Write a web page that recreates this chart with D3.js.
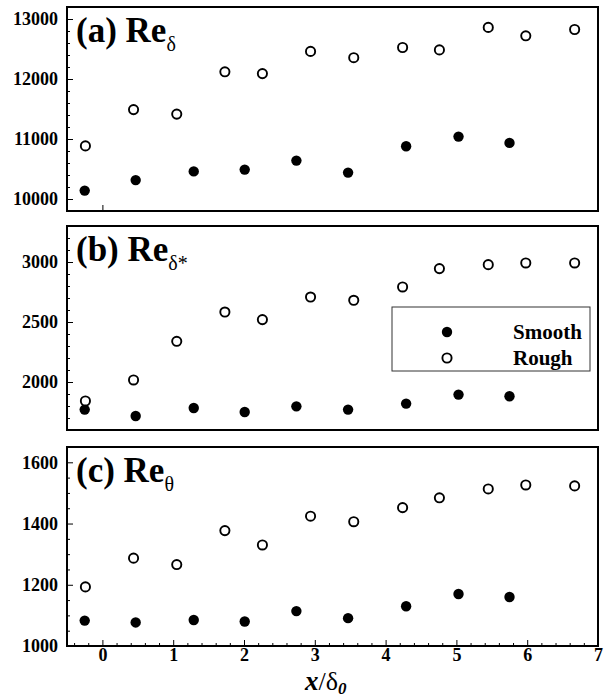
<!DOCTYPE html>
<html>
<head>
<meta charset="utf-8">
<script src="https://cdn.jsdelivr.net/npm/d3@7"></script>
<style>
  body { margin: 0; background: #fff; }
  text { font-family: "Liberation Serif", "Times New Roman", serif; }
</style>
</head>
<body>
<div id="chart-area"></div>
<script>
// x / delta_0 positions of the stations
const xSmooth = [-0.25, 0.47, 1.29, 2.01, 2.74, 3.47, 4.29, 5.03, 5.75]
const xRough = [-0.24, 0.44, 1.05, 1.73, 2.26, 2.94, 3.55, 4.24, 4.76, 5.45, 5.98, 6.67]

// (a) Re_delta
const reDeltaSmooth = [10140, 10315, 10460, 10490, 10640, 10440, 10880, 11040, 10935]
const reDeltaRough = [10885, 11490, 11415, 12120, 12090, 12460, 12355, 12525, 12485, 12860, 12720, 12825]
// (b) Re_delta*
const reDispSmooth = [1770, 1717, 1783, 1750, 1797, 1770, 1820, 1895, 1881]
const reDispRough = [1842, 2017, 2339, 2583, 2520, 2708, 2681, 2792, 2945, 2978, 2992, 2992]
// (c) Re_theta
const reThetaSmooth = [1083, 1077, 1085, 1080, 1114, 1091, 1130, 1170, 1160]
const reThetaRough = [1193, 1287, 1266, 1377, 1330, 1424, 1406, 1452, 1484, 1513, 1526, 1523]

const xTicks = [0, 1, 2, 3, 4, 5, 6, 7]
const legendLabels = ["Smooth", "Rough"]

const LEFT = 67, RIGHT = 598
const SERIF = '"Liberation Serif", "Times New Roman", serif'

const panels = [
  { tag: "(a)", sub: "\u03b4", top: 7, bottom: 211, domain: [9800, 13200],
    ticks: [10000, 11000, 12000, 13000], minor: 200, smooth: reDeltaSmooth, rough: reDeltaRough },
  { tag: "(b)", sub: "\u03b4*", top: 226, bottom: 430, domain: [1600, 3300],
    ticks: [2000, 2500, 3000], minor: 100, smooth: reDispSmooth, rough: reDispRough },
  { tag: "(c)", sub: "\u03b8", top: 447, bottom: 646, domain: [1000, 1650],
    ticks: [1000, 1200, 1400, 1600], minor: 50, smooth: reThetaSmooth, rough: reThetaRough }
]

const svg = d3.select("#chart-area")
  .append("svg")
  .attr("width", 605)
  .attr("height", 698)

svg.append("rect").attr("width", 605).attr("height", 698).attr("fill", "#fff")

const x = d3.scaleLinear()
  .domain([-0.5, 7])
  .range([LEFT, RIGHT])

// bold serif tick labels
function styleLabels(a) {
  a.attr("font-family", null).attr("font-size", null)
  a.selectAll("text")
    .style("font-family", SERIF)
    .style("font-weight", "bold")
    .style("font-size", "18px")
    .attr("fill", "#000")
}

panels.forEach((p, i) => {
  const y = d3.scaleLinear()
    .domain(p.domain)
    .range([p.bottom, p.top])

  const g = svg.append("g")

  // minor ticks on y
  const minorVals = d3.range(Math.ceil(p.domain[0] / p.minor) * p.minor, p.domain[1] + 1, p.minor)
    .filter(v => !p.ticks.includes(v))
  g.append("g")
    .attr("transform", `translate(${LEFT}, 0)`)
    .call(d3.axisLeft(y).tickValues(minorVals).tickSize(-3).tickFormat(""))
    .call(a => a.select(".domain").remove())

  // major ticks on y
  g.append("g")
    .attr("class", "y axis")
    .attr("transform", `translate(${LEFT}, 0)`)
    .call(d3.axisLeft(y).tickValues(p.ticks).tickSize(-6).tickPadding(9).tickFormat(d3.format("d")))
    .call(a => a.select(".domain").remove())
    .call(styleLabels)

  if (i === 0) {
    // lone tick at x = 0 on the first panel
    g.append("g")
      .attr("transform", `translate(0, ${p.bottom})`)
      .call(d3.axisBottom(x).tickValues([0]).tickSize(-6).tickFormat(""))
      .call(a => a.select(".domain").remove())
  }

  if (i === 2) {
    const minorX = d3.range(-0.4, 7.01, 0.2).map(v => +v.toFixed(1)).filter(v => !xTicks.includes(v))
    g.append("g")
      .attr("transform", `translate(0, ${p.bottom})`)
      .call(d3.axisBottom(x).tickValues(minorX).tickSize(-3).tickFormat(""))
      .call(a => a.select(".domain").remove())
    g.append("g")
      .attr("class", "x axis")
      .attr("transform", `translate(0, ${p.bottom})`)
      .call(d3.axisBottom(x).tickValues(xTicks).tickSize(-6).tickPadding(2).tickFormat(d3.format("d")))
      .call(a => a.select(".domain").remove())
      .call(styleLabels)
  }

  // frame
  g.append("rect")
    .attr("x", LEFT)
    .attr("y", p.top)
    .attr("width", RIGHT - LEFT)
    .attr("height", p.bottom - p.top)
    .attr("fill", "none")
    .attr("stroke", "#000")
    .attr("stroke-width", 2)

  // smooth: filled circles
  g.selectAll(".smooth")
    .data(p.smooth)
    .enter().append("circle")
    .attr("class", "smooth")
    .attr("cx", (d, j) => x(xSmooth[j]))
    .attr("cy", d => y(d))
    .attr("r", 5.2)
    .attr("fill", "#000")

  // rough: open circles
  g.selectAll(".rough")
    .data(p.rough)
    .enter().append("circle")
    .attr("class", "rough")
    .attr("cx", (d, j) => x(xRough[j]))
    .attr("cy", d => y(d))
    .attr("r", 4.6)
    .attr("fill", "#fff")
    .attr("stroke", "#000")
    .attr("stroke-width", 1.9)

  // panel label
  const lab = g.append("text")
    .attr("x", 76)
    .attr("y", p.top + 35)
    .attr("font-weight", "bold")
    .attr("font-size", "35px")
  lab.append("tspan").text(p.tag + " Re")
  lab.append("tspan")
    .attr("dy", 9)
    .attr("font-weight", "normal")
    .attr("font-size", "20px")
    .text(p.sub)
})

// legend in panel b
const lg = svg.append("g")
lg.append("rect")
  .attr("x", 392)
  .attr("y", 307)
  .attr("width", 198)
  .attr("height", 64)
  .attr("fill", "#fff")
  .attr("stroke", "#333")
  .attr("stroke-width", 1)

legendLabels.forEach((name, k) => {
  const cy = 332 + k * 26
  lg.append("circle")
    .attr("cx", 447)
    .attr("cy", cy)
    .attr("r", k === 0 ? 5.2 : 4.6)
    .attr("fill", k === 0 ? "#000" : "#fff")
    .attr("stroke", k === 0 ? "none" : "#000")
    .attr("stroke-width", 1.9)
  lg.append("text")
    .attr("x", 513)
    .attr("y", cy + 7)
    .attr("font-weight", "bold")
    .attr("font-size", "21px")
    .text(name)
})

// x label
const xl = svg.append("text")
  .attr("x", 305)
  .attr("y", 690)
  .attr("font-size", "26px")
xl.append("tspan").attr("font-style", "italic").attr("font-weight", "bold").attr("font-size", "27px").text("x")
xl.append("tspan").text("/\u03b4")
xl.append("tspan")
  .attr("dy", 3.5)
  .attr("font-style", "italic")
  .attr("font-weight", "bold")
  .attr("font-size", "17px")
  .text("0")
</script>
</body>
</html>
